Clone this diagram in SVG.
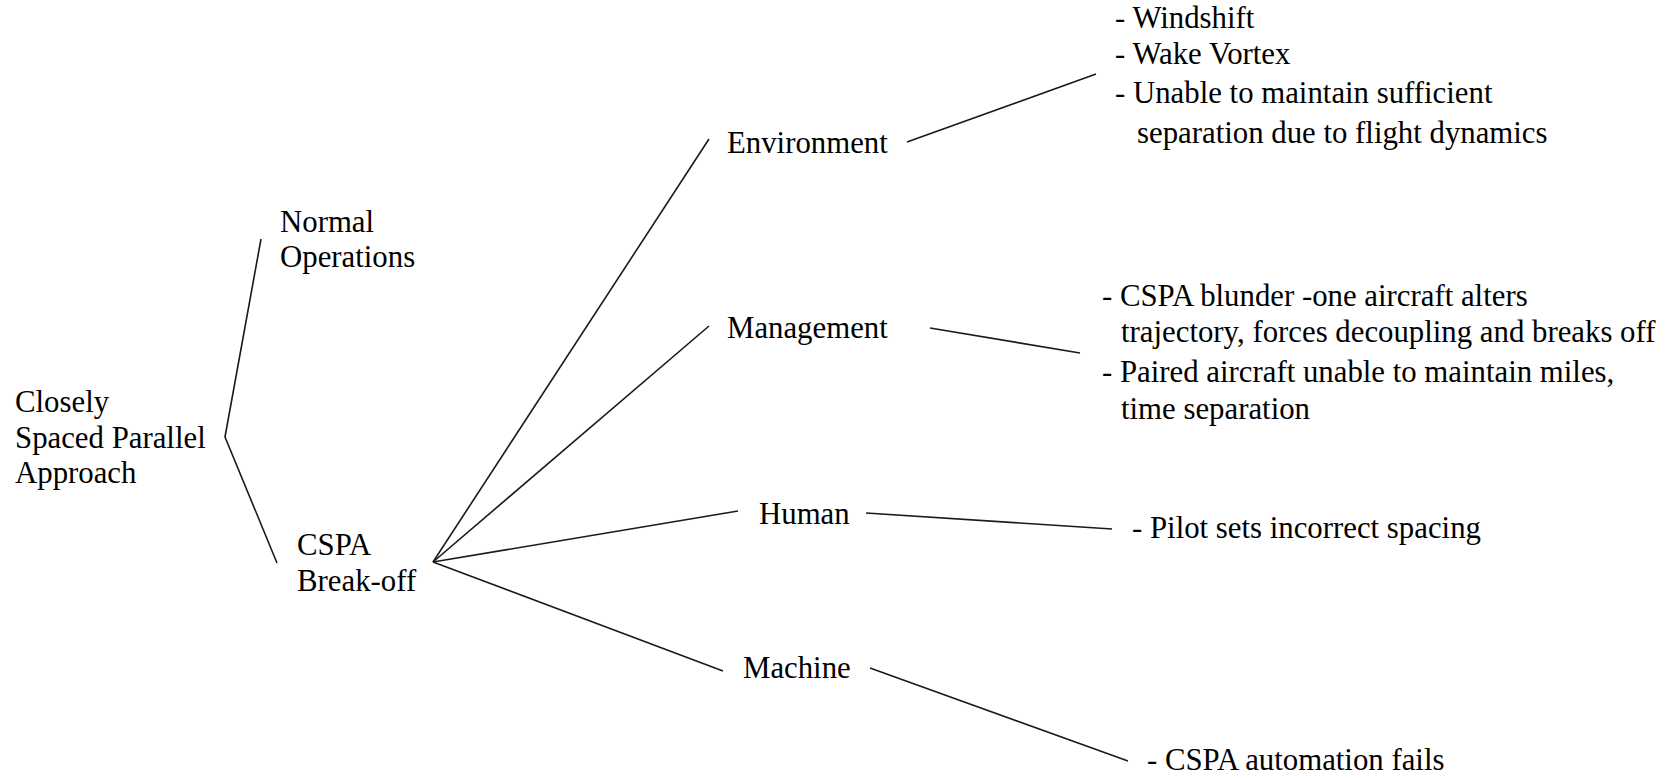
<svg xmlns="http://www.w3.org/2000/svg" width="1677" height="778" viewBox="0 0 1677 778">
<style>
text{font-family:'Liberation Serif','Times New Roman',serif;font-size:30.8px;fill:#000}
.c line,.c polyline{stroke:#1a1a1a;stroke-width:1.6;fill:none}
</style>
<rect width="1677" height="778" fill="#fff"/>
<g class="c" id="connectors">
<polyline points="261,239 225,437 277,563"/>
<line x1="433" y1="562" x2="709" y2="139"/>
<line x1="433" y1="562" x2="709" y2="326"/>
<line x1="433" y1="562" x2="738" y2="511"/>
<line x1="433" y1="562" x2="723" y2="671"/>
<line x1="907" y1="142" x2="1096" y2="74"/>
<line x1="930" y1="328" x2="1080" y2="353"/>
<line x1="866" y1="513" x2="1112" y2="529"/>
<line x1="870" y1="668" x2="1128" y2="761"/>
</g>
<g id="root"><text x="15" y="412">Closely</text><text x="15" y="448">Spaced Parallel</text><text x="15" y="483">Approach</text></g>
<g id="normal"><text x="280" y="232">Normal</text><text x="280" y="267">Operations</text></g>
<g id="breakoff"><text x="297" y="555">CSPA</text><text x="297" y="591">Break-off</text></g>
<g id="environment"><text x="727" y="153">Environment</text></g>
<g id="management"><text x="727" y="338">Management</text></g>
<g id="human"><text x="759" y="524">Human</text></g>
<g id="machine"><text x="743" y="678">Machine</text></g>
<g id="env-items"><text x="1115" y="28">- Windshift</text><text x="1115" y="64">- Wake Vortex</text><text x="1115" y="103">- Unable to maintain sufficient</text><text x="1137" y="143">separation due to flight dynamics</text></g>
<g id="mgmt-items"><text x="1102" y="306">- CSPA blunder -one aircraft alters</text><text x="1121" y="342">trajectory, forces decoupling and breaks off</text><text x="1102" y="382">- Paired aircraft unable to maintain miles,</text><text x="1121" y="419">time separation</text></g>
<g id="human-items"><text x="1132" y="538">- Pilot sets incorrect spacing</text></g>
<g id="machine-items"><text x="1147" y="770">- CSPA automation fails</text></g>
</svg>
